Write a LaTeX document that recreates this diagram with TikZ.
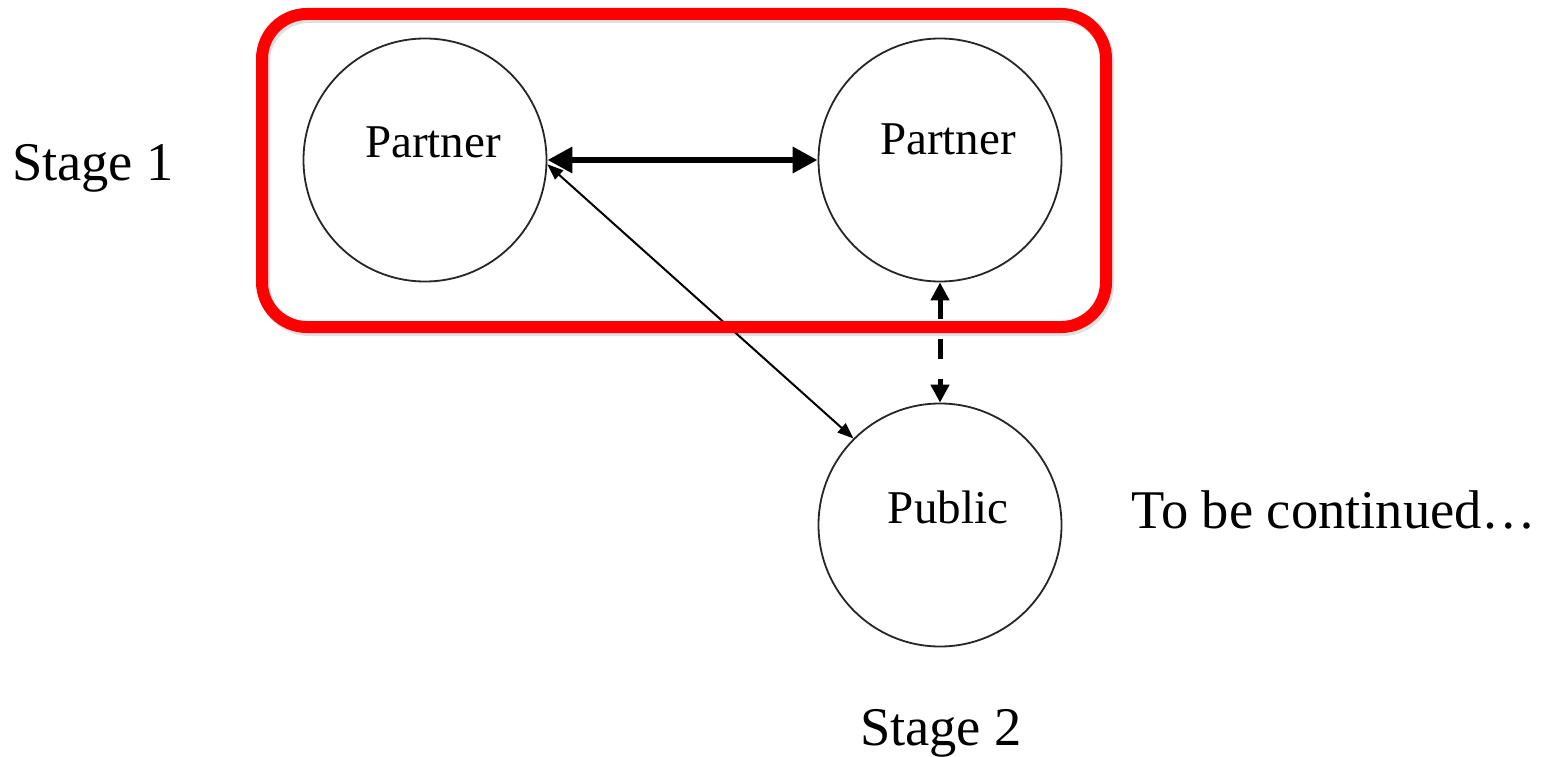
\documentclass[tikz,border=0pt]{standalone}
\usepackage{fontspec}
\setmainfont{Liberation Serif}
\usetikzlibrary{arrows.meta}
\begin{document}
\begin{tikzpicture}[x=1pt,y=-1pt,
  party/.style={circle,draw=black!85,line width=1.8pt,minimum size=243pt,inner sep=0pt},
  inlabel/.style={font=\fontsize{47}{50}\selectfont,anchor=base},
  biglabel/.style={font=\fontsize{54.5}{60}\selectfont,anchor=base},
  thickarrow/.style={line width=6.5pt,{Triangle[length=25pt,width=25pt]}-{Triangle[length=25pt,width=25pt]}},
  thinarrow/.style={line width=2pt,{Triangle[length=16pt,width=12pt]}-{Triangle[length=16pt,width=12pt]}},
  dasharrow/.style={line width=5pt,dash pattern=on 20pt off 20pt,{Triangle[length=18pt,width=18pt]}-{Triangle[length=18pt,width=18pt]}},
  stagebox/.style={draw=red,line width=12pt,rounded corners=45pt}
]
\useasboundingbox (0,0) rectangle (1548,757);
\fill[white] (0,0) rectangle (1548,757);
\node[party] (L) at (425,160) {};
\node[party] (R) at (940,160) {};
\node[party] (P) at (940,525) {};
\node[inlabel] (lt) at (433,158) {Partner};
\node[inlabel] (rt) at (948,155) {Partner};
\node[inlabel] (pt) at (948,523) {Public};
\draw[thickarrow] (L.east) -- (R.west);
\draw[thinarrow] (L.-2) -- (P.135);
\draw[dasharrow] (R.south) -- (P.north);
\draw[line width=12pt,black,opacity=0.12,rounded corners=45pt] (264,17) rectangle (1108,330);
\draw[stagebox] (262,14) rectangle (1106,327);
\node[biglabel] (s1) at (93,180) {Stage 1};
\node[biglabel] (s2) at (941,745) {Stage 2};
\node[biglabel,anchor=base west] (tbc) at (1128,528) {To be continued…};
\end{tikzpicture}
\end{document}
